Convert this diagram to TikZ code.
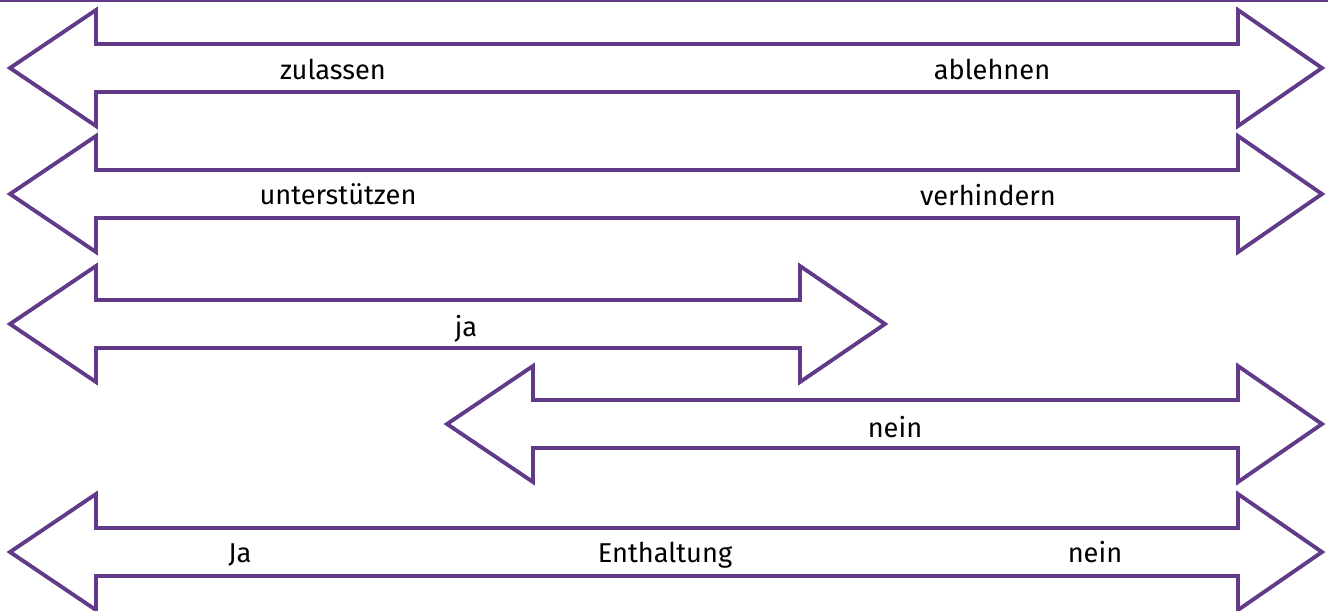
\documentclass[tikz,border=0pt]{standalone}
\usepackage{fontspec}
\setmainfont{Fira Sans}
\definecolor{lila}{RGB}{98,58,138}
\tikzset{
  pfeil/.style={draw=lila, line width=2.2pt, line join=miter, fill=white},
  label/.style={font=\fontsize{15.5}{18}\selectfont, anchor=base, inner sep=0pt}
}

\begin{document}
\begin{tikzpicture}[x=0.02cm, y=-0.02cm]
  \useasboundingbox (0,0) rectangle (1333,610);
  \draw[lila, line width=1.4pt] (0,1) -- (1328,1);
  % double arrows: left tip / left back / right back / right tip / centre
  \foreach \l/\lb/\rb/\r/\c in {10/96/1238/1322/68, 10/96/1238/1322/194,
      10/96/800/885/324, 447/533/1238/1322/424, 10/96/1238/1322/552}
    \draw[pfeil] (\l,\c) -- (\lb,\c-58) -- (\lb,\c-24) -- (\rb,\c-24) -- (\rb,\c-58)
      -- (\r,\c) -- (\rb,\c+58) -- (\rb,\c+24) -- (\lb,\c+24) -- (\lb,\c+58) -- cycle;
  \node[label] (zulassen) at (333,79) {zulassen};
  \node[label] (ablehnen) at (992,79) {ablehnen};
  \node[label] (unterst) at (338,204) {unterstützen};
  \node[label] (verh) at (988,205) {verhindern};
  \node[label] (ja) at (466,336) {ja};
  \node[label] (nein) at (895,437) {nein};
  \node[label] (Ja) at (240,562) {Ja};
  \node[label] (enth) at (665,562) {Enthaltung};
  \node[label] (nein2) at (1095,562) {nein};
\end{tikzpicture}
\end{document}
